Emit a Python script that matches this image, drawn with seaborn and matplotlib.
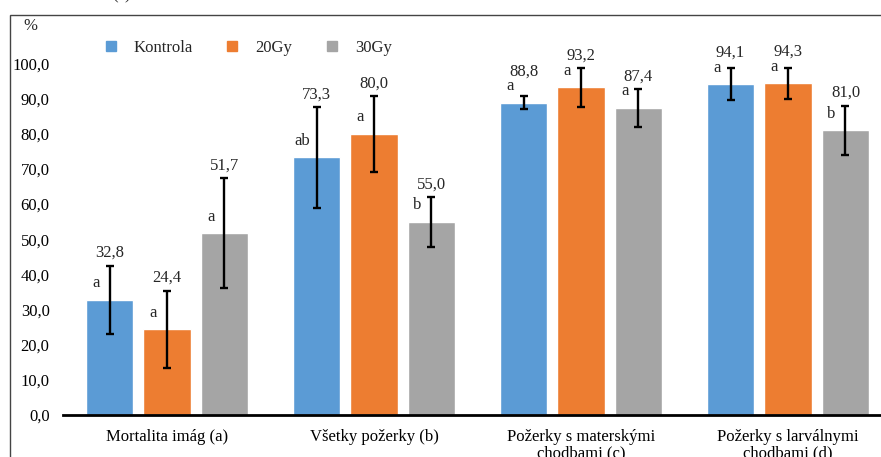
import pandas as pd
import matplotlib.pyplot as plt
import seaborn as sns
from matplotlib.lines import Line2D
from matplotlib.patches import Rectangle

# data
categories = ['Mortalita imág (a)', 'Všetky požerky (b)',
              'Požerky s materskými\nchodbami (c)', 'Požerky s larválnymi\nchodbami (d)']
groups = ['Kontrola', '20Gy', '30Gy']
kontrola = [32.8, 73.3, 88.8, 94.1]
gy20 = [24.4, 80.0, 93.2, 94.3]
gy30 = [51.7, 55.0, 87.4, 81.0]
err_kontrola = [9.7, 14.3, 1.8, 4.6]
err_20 = [11.0, 10.8, 5.6, 4.4]
err_30 = [15.6, 7.1, 5.4, 7.0]
letters_kontrola = ['a', 'ab', 'a', 'a']
letters_20 = ['a', 'a', 'a', 'a']
letters_30 = ['a', 'b', 'a', 'b']

colors = ['#5B9BD5', '#ED7D31', '#A5A5A5']

rows = []
for g, vals in zip(groups, [kontrola, gy20, gy30]):
    for c, v in zip(categories, vals):
        rows.append({'category': c, 'group': g, 'value': v})
df = pd.DataFrame(rows)

sns.set_style('white')
plt.rcParams['font.family'] = ['Liberation Serif', 'DejaVu Serif']

fig = plt.figure(figsize=(8.81, 4.57), dpi=100)
ax = fig.add_axes([63.5 / 881, 42 / 457, 828 / 881, 386.7 / 457])

sns.barplot(data=df, x='category', y='value', hue='group', order=categories,
            hue_order=groups, palette=colors, saturation=1, width=0.833, gap=0.18,
            errorbar=None, legend=False, ax=ax)

errs = [err_kontrola, err_20, err_30]
lets = [letters_kontrola, letters_20, letters_30]
for cont, e, lt in zip(ax.containers, errs, lets):
    xs = [p.get_x() + p.get_width() / 2 for p in cont.patches]
    ys = [p.get_height() for p in cont.patches]
    ax.errorbar(xs, ys, yerr=e, fmt='none', ecolor='black', elinewidth=1.7,
                capsize=3, capthick=1.7, zorder=5)
    for x, y, ee, l in zip(xs, ys, e, lt):
        # value label above the error bar, but not too close to the bar top
        ax.annotate(f'{y:.1f}'.replace('.', ','), (x, max(y + ee, y + 5.4)), xytext=(0, 9),
                    textcoords='offset points', ha='center', va='center', fontsize=12)
        ax.annotate(l, (x, y), xytext=(-10, 12), textcoords='offset points',
                    ha='center', va='center', fontsize=12)

ax.set_ylim(0, 110)
ax.set_xlim(-0.5, 3.5)
ax.set_yticks(range(0, 101, 10))
ax.set_yticklabels([f'{t:.1f}'.replace('.', ',') for t in range(0, 101, 10)], fontsize=12)
ax.set_xticks(range(4))
ax.set_xticklabels(categories, fontsize=12, linespacing=1.05)
ax.tick_params(axis='both', length=0, colors='black')
ax.tick_params(axis='y', pad=10)
ax.tick_params(axis='x', pad=10)
ax.set_xlabel('')
ax.set_ylabel('')
for s in ['left', 'top', 'right']:
    ax.spines[s].set_visible(False)
ax.spines['bottom'].set_color('black')
ax.spines['bottom'].set_linewidth(2)

# legend
handles = [Line2D([], [], marker='s', linestyle='none', markersize=7,
                  markerfacecolor=c, markeredgecolor=c) for c in colors]
fig.legend(handles, groups, loc='center left', bbox_to_anchor=(104 / 881, 1 - 48 / 457),
           ncol=3, frameon=False, fontsize=12, handlelength=0.8, handletextpad=1.0,
           columnspacing=1.95, borderpad=0, borderaxespad=0)

fig.text(30 / 881, 1 - 26 / 457, '%', ha='center', va='center', fontsize=12)
fig.text(122 / 881, 1 + 1 / 457, '(a)', ha='center', va='baseline', fontsize=12)

# outer frame (cropped)
fig.patches.append(Rectangle((10 / 881, -0.2), 2, 1.2 - 14.5 / 457, transform=fig.transFigure,
                             fill=False, edgecolor='#444444', linewidth=1, clip_on=False))

fig.savefig('out.png', dpi=100)
